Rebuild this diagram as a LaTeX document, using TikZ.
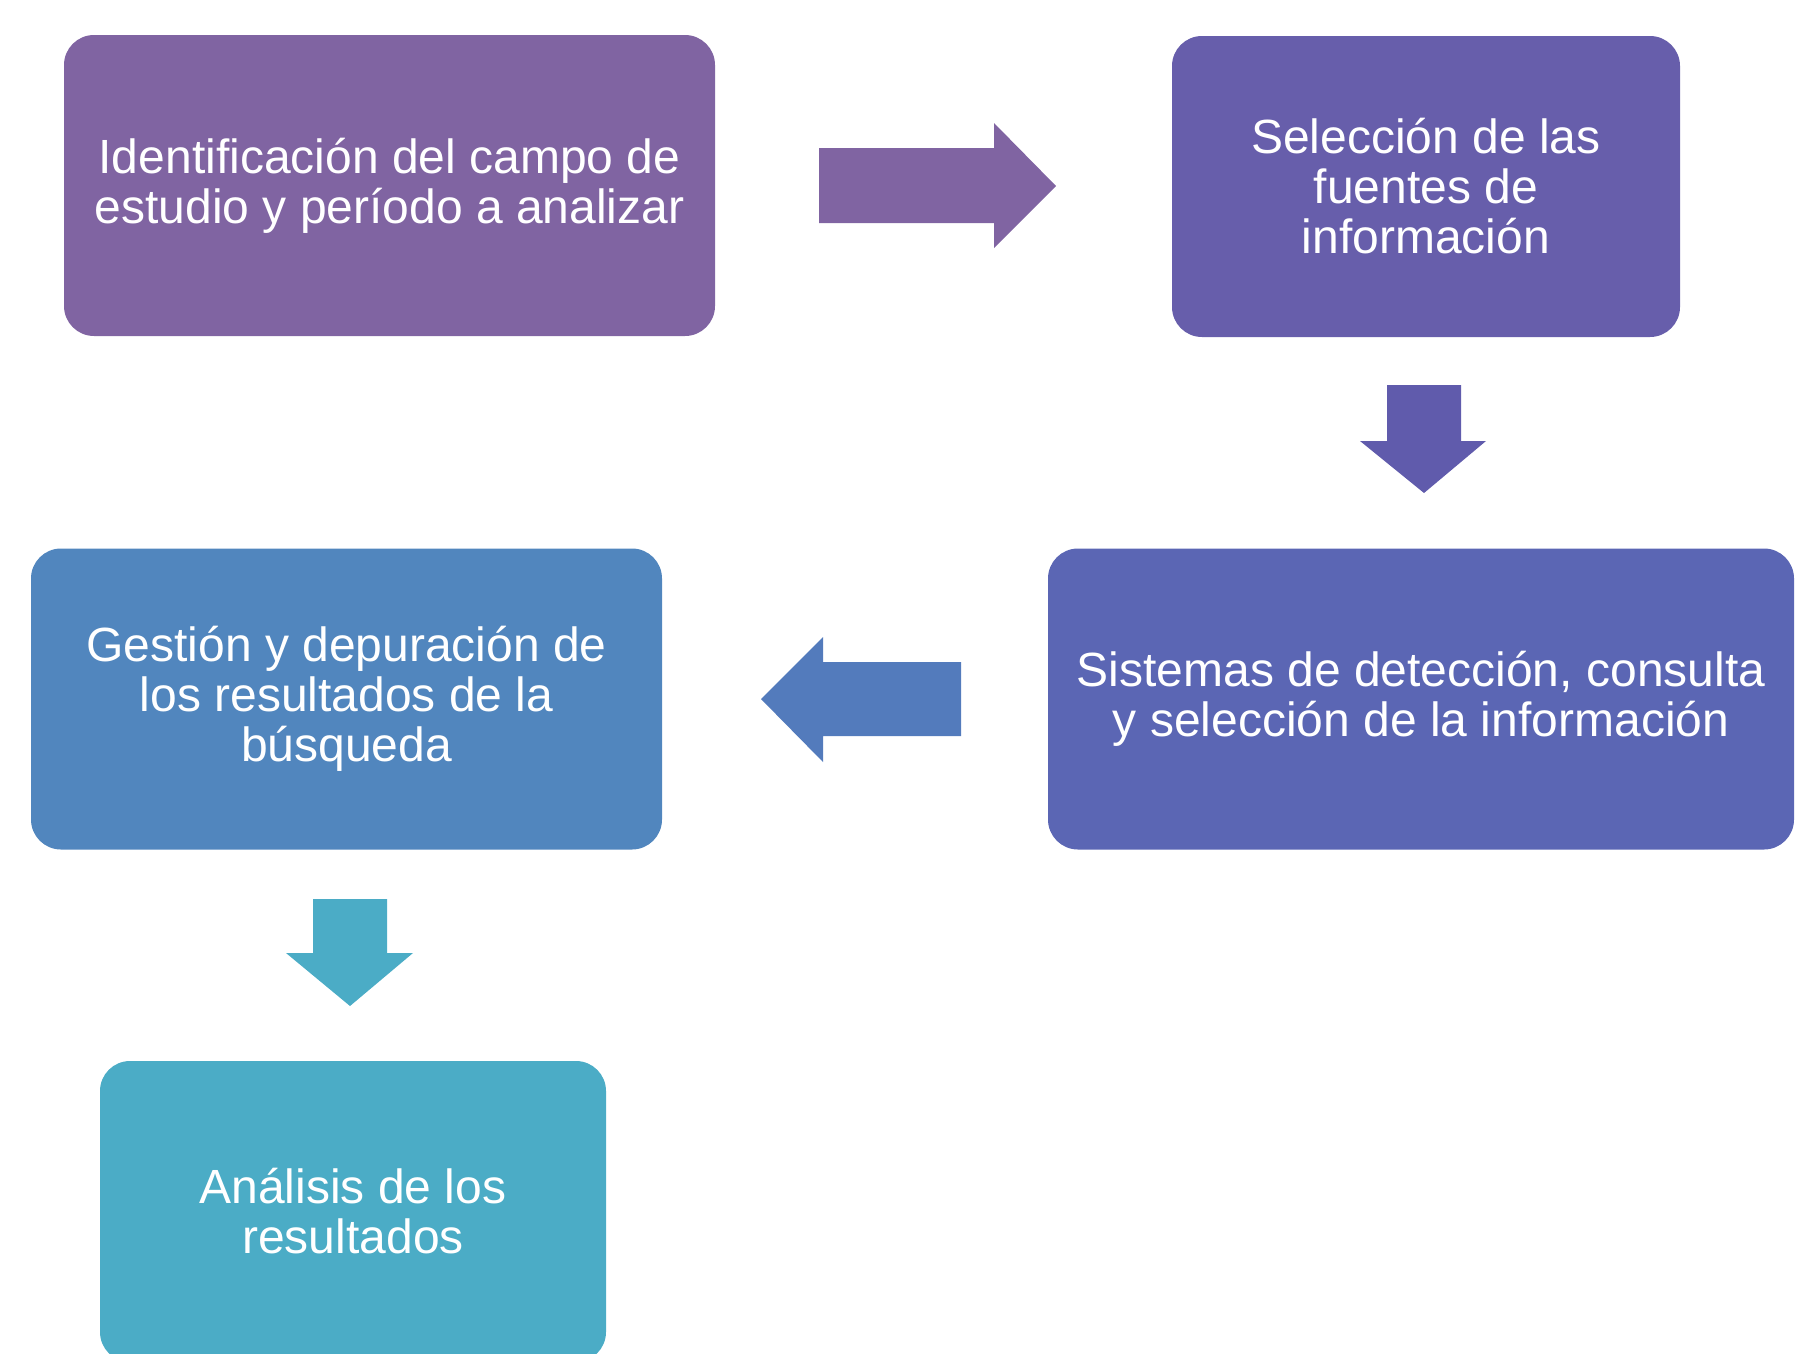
\documentclass[tikz,border=0pt]{standalone}
\usepackage{fontspec}
\setmainfont{Liberation Sans}
\usepackage{xcolor}
\usepackage{tikz}
\definecolor{violetA}{HTML}{8064A2}
\definecolor{violetB}{HTML}{675EAB}
\definecolor{violetC}{HTML}{605BAC}
\definecolor{indigo}{HTML}{5B66B4}
\definecolor{blueA}{HTML}{537BBC}
\definecolor{blueB}{HTML}{5186BE}
\definecolor{teal}{HTML}{4BACC6}
\tikzset{
  box/.style={rectangle, rounded corners=30pt, minimum height=301pt, inner sep=0pt,
    text=white, align=center, font=\fontsize{48}{50}\selectfont},
  blockarrow/.style={draw=none}
}
\begin{document}
\begin{tikzpicture}[x=1pt,y=-1pt]
\useasboundingbox (0,0) rectangle (1818,1353);
\node[box, fill=violetA, minimum width=651pt] (campo) at (389.5,185.5)
  {Identificación del campo de\\estudio y período a analizar};
\node[box, fill=violetB, minimum width=508pt] (fuentes) at (1426,186.5)
  {Selección de las\\fuentes de\\información};
\node[box, fill=indigo, minimum width=746pt] (sistemas) at (1421,699)
  {Sistemas de detección, consulta\\y selección de la información};
\node[box, fill=blueB, minimum width=631pt] (gestion) at (346.5,699)
  {Gestión y depuración de\\los resultados de la\\búsqueda};
\node[box, fill=teal, minimum width=506pt] (analisis) at (353,1211.5)
  {Análisis de los\\resultados};
% block arrows between the steps
\fill[blockarrow, violetA] (819,148)--(994,148)--(994,123)--(1056,186)--(994,248)--(994,223)--(819,223)--cycle;
\fill[blockarrow, violetC] (1387,385)--(1461,385)--(1461,441)--(1486,441)--(1424,493)--(1360,441)--(1387,441)--cycle;
\fill[blockarrow, blueA] (961,662)--(823,662)--(823,637)--(761,699)--(823,762)--(823,736)--(961,736)--cycle;
\fill[blockarrow, teal] (313,899)--(387,899)--(387,953)--(413,953)--(350,1006)--(286,953)--(313,953)--cycle;
\end{tikzpicture}
\end{document}
